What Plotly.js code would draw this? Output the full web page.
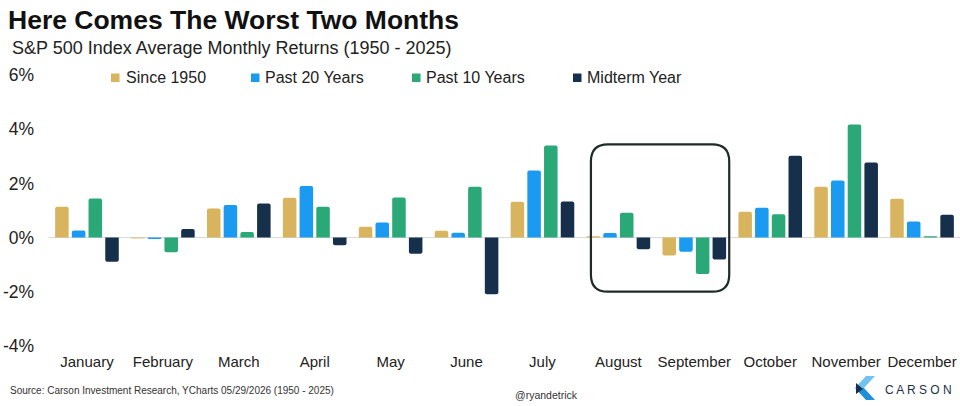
<!DOCTYPE html>
<html>
<head>
<meta charset="utf-8">
<script src="https://cdn.plot.ly/plotly-3.0.1.min.js"></script>
<style>html,body{margin:0;padding:0;background:#fff;}#chart{width:960px;height:406px;}</style>
</head>
<body>
<div id="chart"></div>
<script>
// ---- data ----
var months = ["January","February","March","April","May","June","July","August","September","October","November","December"];
var seriesNames = ["Since 1950","Past 20 Years","Past 10 Years","Midterm Year"];
var since1950  = [1.14, -0.03, 1.07, 1.47, 0.40, 0.25, 1.32, 0.05, -0.66, 0.95, 1.88, 1.43];
var past20     = [0.26, -0.05, 1.20, 1.90, 0.56, 0.18, 2.48, 0.17, -0.52, 1.10, 2.11, 0.59];
var past10     = [1.44, -0.54, 0.21, 1.14, 1.48, 1.88, 3.40, 0.92, -1.34, 0.86, 4.17, 0.05];
var midterm    = [-0.89, 0.32, 1.26, -0.28, -0.60, -2.09, 1.33, -0.43, -0.81, 3.02, 2.77, 0.84];
var seriesColors = ["#d9b45f","#1a9af0","#2aa877","#16304c"];
var yTickVals = [-4, -2, 0, 2, 4, 6];
var yTickText = ["-4%", "-2%", "0%", "2%", "4%", "6%"];

// ---- layout geometry (pixels) ----
var W = 960, H = 406;
var M = {l: 49, r: 0, t: 75, b: 60};
var PW = W - M.l - M.r, PH = H - M.t - M.b;
function px(x){ return (x - M.l) / PW; }
function py(y){ return (H - M.b - y) / PH; }

var seriesValues = [since1950, past20, past10, midterm];
var traces = seriesValues.map(function(vals, i){
  return {
    type: "bar",
    name: seriesNames[i],
    x: months,
    y: vals,
    marker: {color: seriesColors[i], cornerradius: 2},
    showlegend: false,
    hoverinfo: "x+y+name"
  };
});

var shapes = [];
var annotations = [];

// subtitle
annotations.push({xref: "paper", yref: "paper", x: px(10), y: py(48), xanchor: "left", yanchor: "middle",
  showarrow: false, text: "S&amp;P 500 Index Average Monthly Returns (1950 - 2025)",
  font: {family: "Liberation Sans, Arial, sans-serif", size: 18, color: "#222"}});

// manual legend
var legSwatchX = [111, 251, 412, 573];
var legTextX = [124, 263, 424, 585];
seriesNames.forEach(function(n, i){
  shapes.push({type: "rect", xref: "paper", yref: "paper",
    x0: px(legSwatchX[i]), x1: px(legSwatchX[i] + 8.5),
    y0: py(82), y1: py(73.5),
    fillcolor: seriesColors[i], line: {width: 0}});
  annotations.push({xref: "paper", yref: "paper", x: px(legTextX[i]), y: py(77.5),
    xanchor: "left", yanchor: "middle", showarrow: false, text: n,
    font: {family: "Liberation Sans, Arial, sans-serif", size: 16, color: "#222"}});
});

// highlight box around August/September (rounded rectangle, pixel units)
var bl = -65.4, br = 72.9, bt = 93.3, bb = -54.1, r = 17;
shapes.push({
  type: "path", xref: "x", yref: "y", xsizemode: "pixel", ysizemode: "pixel",
  xanchor: 7.5, yanchor: 0,
  path: "M" + (bl + r) + "," + bt + " L" + (br - r) + "," + bt +
        " Q" + br + "," + bt + " " + br + "," + (bt - r) +
        " L" + br + "," + (bb + r) +
        " Q" + br + "," + bb + " " + (br - r) + "," + bb +
        " L" + (bl + r) + "," + bb +
        " Q" + bl + "," + bb + " " + bl + "," + (bb + r) +
        " L" + bl + "," + (bt - r) +
        " Q" + bl + "," + bt + " " + (bl + r) + "," + bt + " Z",
  line: {color: "#1f2b27", width: 2.2}, fillcolor: "rgba(0,0,0,0)", layer: "above"
});

// Carson logo chevron (pixel units relative to bottom-right of plot)
function logoPath(pts){
  return "M" + pts.map(function(p){ return (p[0] - 960) + "," + (346 - p[1]); }).join(" L") + " Z";
}
shapes.push({type: "path", xref: "paper", yref: "paper", xsizemode: "pixel", ysizemode: "pixel",
  xanchor: 1, yanchor: 0, path: logoPath([[866,376],[875,376],[864,388],[855,388]]),
  fillcolor: "#72c3ef", line: {width: 0}});
shapes.push({type: "path", xref: "paper", yref: "paper", xsizemode: "pixel", ysizemode: "pixel",
  xanchor: 1, yanchor: 0, path: logoPath([[855,388],[864,388],[875,400],[866,400]]),
  fillcolor: "#1f8fdb", line: {width: 0}});
shapes.push({type: "path", xref: "paper", yref: "paper", xsizemode: "pixel", ysizemode: "pixel",
  xanchor: 1, yanchor: 0, path: logoPath([[856,383],[863,389],[856,394]]),
  fillcolor: "#15304c", line: {width: 0}});

// footer texts
annotations.push({xref: "paper", yref: "paper", x: px(8), y: py(390.5), xanchor: "left", yanchor: "middle",
  showarrow: false, text: "Source: Carson Investment Research, YCharts 05/29/2026 (1950 - 2025)",
  font: {family: "Liberation Sans, Arial, sans-serif", size: 10, color: "#333"}});
annotations.push({xref: "paper", yref: "paper", x: px(546), y: py(395), xanchor: "center", yanchor: "middle",
  showarrow: false, text: "@ryandetrick",
  font: {family: "Liberation Sans, Arial, sans-serif", size: 10.5, color: "#333"}});
annotations.push({xref: "paper", yref: "paper", x: px(883), y: py(390), xanchor: "left", yanchor: "middle",
  showarrow: false, text: "C A R S O N",
  font: {family: "Liberation Sans, Arial, sans-serif", size: 12, color: "#1b2f4a"}});

var layout = {
  width: W, height: H,
  margin: M,
  paper_bgcolor: "#ffffff", plot_bgcolor: "#ffffff",
  font: {family: "Liberation Sans, Arial, sans-serif", color: "#222"},
  title: {
    text: "<b>Here Comes The Worst Two Months</b>",
    font: {family: "Liberation Sans, Arial, sans-serif", size: 26.5, color: "#111"},
    x: 8 / W, xref: "container", xanchor: "left",
    y: 1 - 10 / H, yref: "container", yanchor: "top"
  },
  barmode: "group",
  bargap: 0.12,
  bargroupgap: 0.19,
  xaxis: {
    type: "category", categoryorder: "array", categoryarray: months,
    showgrid: false, showline: false, zeroline: false, ticks: "",
    tickfont: {size: 15, color: "#222"}, ticklabelstandoff: 5, fixedrange: true
  },
  yaxis: {
    range: [-4, 6], tickmode: "array", tickvals: yTickVals, ticktext: yTickText,
    showgrid: false, showline: false, ticks: "",
    zeroline: true, zerolinecolor: "#d9d9d9", zerolinewidth: 1.5,
    tickfont: {size: 17.5, color: "#222"}, ticklabelstandoff: 14, fixedrange: true
  },
  shapes: shapes,
  annotations: annotations
};

Plotly.newPlot("chart", traces, layout, {displayModeBar: false, staticPlot: true});
</script>
</body>
</html>
